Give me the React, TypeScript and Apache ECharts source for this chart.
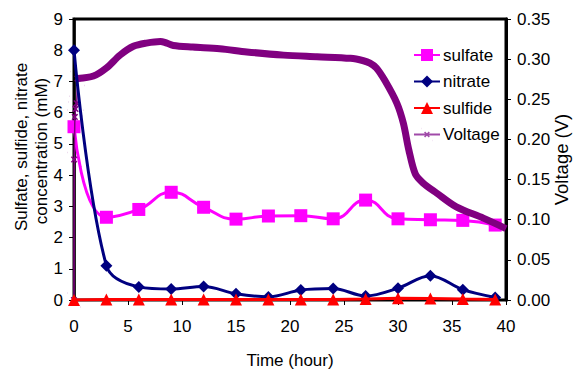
import { useEffect, useRef } from "react";
import * as echarts from "echarts";

const hours = [0, 3, 6, 9, 12, 15, 18, 21, 24, 27, 30, 33, 36, 39];
const sulfate = [5.55, 2.65, 2.9, 3.45, 2.97, 2.59, 2.69, 2.7, 2.6, 3.2, 2.6, 2.57, 2.55, 2.4];
const nitrate = [8.0, 1.1, 0.42, 0.35, 0.43, 0.2, 0.1, 0.32, 0.37, 0.13, 0.38, 0.78, 0.33, 0.08];
const sulfide = [0.0, 0.02, 0.02, 0.02, 0.02, 0.02, 0.02, 0.02, 0.02, 0.03, 0.06, 0.05, 0.03, 0.02];

const voltageStartHours = [0, 0.02, 0.08, 0.15, 0.25, 0.34];
const voltageStart = [0, 0.175, 0.228, 0.238, 0.245, 0.276];
const voltageHours = [0.34, 1.8, 3.0, 4.26, 5.5, 6.7, 8.0, 8.4, 9.2, 11, 13.5, 16, 19.4, 22.5, 25.6, 26.8, 27.4, 28, 28.8, 29.9, 30.5, 31.0, 31.6, 32.3, 33.6, 35.4, 37.9, 40];
const voltage = [0.276, 0.279, 0.289, 0.305, 0.316, 0.32, 0.322, 0.321, 0.317, 0.315, 0.313, 0.309, 0.305, 0.303, 0.301, 0.298, 0.295, 0.289, 0.273, 0.245, 0.22, 0.187, 0.157, 0.146, 0.133, 0.116, 0.102, 0.089];

const xTicks = { min: 0, max: 40, interval: 5 };
const leftTicks = { min: 0, max: 9, interval: 1 };
const rightTicks = { min: 0, max: 0.35, interval: 0.05 };

const NARROW = "'Liberation Sans Narrow', 'Arial Narrow', sans-serif";
const SANS = "'Liberation Sans', Arial, sans-serif";

const pairs = (xs: number[], ys: number[]) => xs.map((x, i) => [x, ys[i]]);

export default function App() {
  const ref = useRef<HTMLDivElement>(null);
  useEffect(() => {
    if (!ref.current) return;
    const chart = echarts.init(ref.current, null, { renderer: "svg" });
    const axisLabel = { color: "#000", fontFamily: NARROW, fontSize: 17 };
    chart.setOption({
      animation: false,
      backgroundColor: "#fff",
      grid: {
        left: 74,
        right: 68,
        top: 19,
        bottom: 73,
        show: true,
        borderColor: "#000",
        borderWidth: 3,
      },
      legend: {
        orient: "vertical",
        left: 413,
        top: 46.5,
        padding: 0,
        itemWidth: 26,
        itemHeight: 15,
        itemGap: 9.5,
        textStyle: { color: "#000", fontFamily: NARROW, fontSize: 17, padding: [0, 0, 0, -2] },
        data: [
          { name: "sulfate" },
          { name: "nitrate" },
          { name: "sulfide" },
          {
            name: "Voltage",
            itemStyle: { color: "#a04aa8", borderColor: "#a04aa8", borderWidth: 1.5 },
            lineStyle: { color: "#a04aa8", width: 2 },
          },
        ],
      },
      xAxis: {
        type: "value",
        ...xTicks,
        axisLine: { show: true, lineStyle: { color: "#000", width: 2 } },
        axisTick: { show: true, length: 5, lineStyle: { color: "#000", width: 1 } },
        axisLabel: { ...axisLabel, margin: 18 },
        splitLine: { show: false },
      },
      yAxis: [
        {
          type: "value",
          ...leftTicks,
          position: "left",
          axisLine: { show: true, lineStyle: { color: "#000", width: 2.5 } },
          axisTick: { show: true, length: 5, lineStyle: { color: "#000", width: 1 } },
          axisLabel: { ...axisLabel, margin: 11 },
          splitLine: { show: false },
        },
        {
          type: "value",
          ...rightTicks,
          position: "right",
          axisLine: { show: true, lineStyle: { color: "#000", width: 3 } },
          axisTick: { show: true, length: 5, lineStyle: { color: "#000", width: 1 } },
          axisLabel: { ...axisLabel, margin: 11, formatter: (v: number) => v.toFixed(2) },
          splitLine: { show: false },
        },
      ],
      graphic: [
        {
          type: "text",
          x: 21,
          y: 147,
          rotation: Math.PI / 2,
          style: { text: "Sulfate, sulfide, nitrate", fill: "#000", font: `17px ${SANS}`, textAlign: "center", textVerticalAlign: "middle" },
        },
        {
          type: "text",
          x: 41,
          y: 151,
          rotation: Math.PI / 2,
          style: { text: "concentration (mM)", fill: "#000", font: `17px ${SANS}`, textAlign: "center", textVerticalAlign: "middle" },
        },
        {
          type: "text",
          x: 561,
          y: 159.5,
          rotation: Math.PI / 2,
          style: { text: "Voltage (V)", fill: "#000", font: `18.5px ${SANS}`, textAlign: "center", textVerticalAlign: "middle" },
        },
        {
          type: "text",
          x: 290,
          y: 360,
          style: { text: "Time (hour)", fill: "#000", font: `17px ${NARROW}`, textAlign: "center", textVerticalAlign: "middle" },
        },
      ],
      series: [
        {
          name: "sulfate",
          type: "line",
          yAxisIndex: 0,
          z: 2,
          data: pairs(hours, sulfate),
          smooth: 0.5,
          symbol: "rect",
          symbolSize: 13,
          lineStyle: { color: "#ff00ff", width: 3 },
          itemStyle: { color: "#ff00ff" },
        },
        {
          name: "Voltage",
          type: "line",
          yAxisIndex: 1,
          z: 3,
          data: pairs(voltageStartHours, voltageStart),
          symbol: "path://M0 0L0.1 0M3 3L7 7M7 3L3 7M10 10L10.1 10",
          symbolSize: 14,
          lineStyle: { color: "#800080", width: 1.5 },
          itemStyle: { color: "#800080", borderColor: "#800080", borderWidth: 1.5 },
        },
        {
          name: "Voltage",
          type: "line",
          yAxisIndex: 1,
          z: 3,
          data: pairs(voltageHours, voltage),
          smooth: 0.3,
          showSymbol: false,
          symbol: "none",
          lineStyle: { color: "#800080", width: 7 },
          itemStyle: { color: "#800080" },
        },
        {
          name: "nitrate",
          type: "line",
          yAxisIndex: 0,
          z: 4,
          data: pairs(hours, nitrate),
          smooth: 0.35,
          symbol: "diamond",
          symbolSize: 12,
          lineStyle: { color: "#000080", width: 3 },
          itemStyle: { color: "#000080" },
        },
        {
          name: "sulfide",
          type: "line",
          yAxisIndex: 0,
          z: 5,
          data: pairs(hours, sulfide),
          symbol: "triangle",
          symbolSize: 12,
          lineStyle: { color: "#ff0000", width: 3 },
          itemStyle: { color: "#ff0000" },
        },
      ],
    });
    return () => chart.dispose();
  }, []);
  return <div ref={ref} style={{ position: "fixed", left: 0, top: 0, width: 574, height: 373 }} />;
}
